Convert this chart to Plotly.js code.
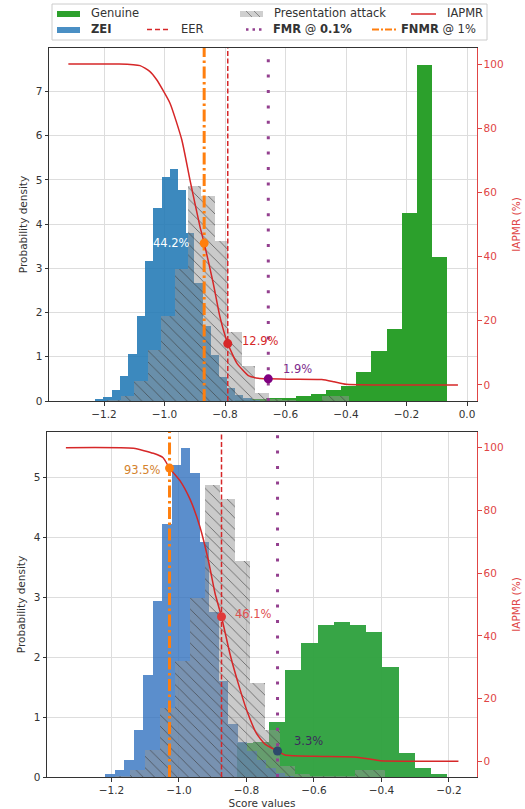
<!DOCTYPE html>
<html>
<head>
<meta charset="utf-8">
<script src="https://cdn.plot.ly/plotly-3.0.1.min.js"></script>
<style>html,body{margin:0;padding:0;background:#fff;}#chart{width:525px;height:809px;}</style>
</head>
<body>
<div id="chart"></div>
<script>
// ---------- DATA ----------
// Top panel
const topGenuineEdges = [-0.766, -0.716, -0.666, -0.616, -0.566, -0.516, -0.466, -0.416, -0.366, -0.316, -0.266, -0.216, -0.166, -0.116, -0.066];
const topGenuineDensity = [0.02, 0.04, 0.075, 0.075, 0.11, 0.16, 0.26, 0.35, 0.65, 1.12, 1.63, 4.25, 7.59, 3.26];
const topZeiEdges = [-1.229, -1.202, -1.175, -1.147, -1.120, -1.092, -1.064, -1.037, -1.009, -0.982, -0.955, -0.928, -0.901, -0.874, -0.847, -0.820, -0.793, -0.766, -0.739, -0.712, -0.685];
const topZeiDensity = [0.04, 0.09, 0.26, 0.57, 1.06, 1.93, 3.17, 4.36, 5.06, 5.24, 4.76, 3.80, 2.67, 1.70, 1.05, 0.55, 0.30, 0.14, 0.07, 0.03];
// Presentation attack (same in both panels)
const paEdges = [-1.190, -1.145, -1.101, -1.056, -1.012, -0.967, -0.923, -0.878, -0.834, -0.789, -0.745, -0.700, -0.656, -0.611, -0.567, -0.522, -0.478, -0.434, -0.389];
const paDensity = [0.02, 0.12, 0.45, 1.15, 1.93, 2.98, 4.87, 4.63, 3.61, 1.57, 0.79, 0.19, 0.05, 0.02, 0.01, 0.01, 0.11, 0.11];
const topIapmrScore = [-1.318, -1.15, -1.081, -1.05, -1.026, -0.982, -0.943, -0.916, -0.883, -0.869, -0.839, -0.817, -0.791, -0.761, -0.723, -0.69, -0.657, -0.58, -0.48, -0.44, -0.40, -0.30, -0.03];
const topIapmrPct = [100, 100, 99.5, 97.8, 95.1, 87.8, 76.4, 63.9, 49.4, 44.2, 31.7, 21.3, 12.9, 6.8, 2.9, 2.1, 1.9, 1.8, 1.7, 1.0, 0.2, 0.0, 0.0];
const topThr = {fnmr: -0.869, eer: -0.791, fmr: -0.657};
const topPct = {fnmr: 44.2, eer: 12.9, fmr: 1.9};

// Bottom panel
const botGenuineEdges = [-0.829, -0.781, -0.733, -0.685, -0.637, -0.589, -0.541, -0.493, -0.445, -0.397, -0.349, -0.301, -0.253, -0.205];
const botGenuineDensity = [0.57, 0.59, 0.92, 1.79, 2.23, 2.54, 2.59, 2.54, 2.42, 1.83, 0.40, 0.15, 0.045];
const botZeiEdges = [-1.219, -1.190, -1.162, -1.134, -1.106, -1.078, -1.050, -1.022, -0.994, -0.966, -0.938, -0.910, -0.882, -0.854, -0.826, -0.798, -0.770, -0.742, -0.714, -0.686, -0.658];
const botZeiDensity = [0.05, 0.11, 0.28, 0.79, 1.70, 2.94, 4.22, 5.20, 5.49, 5.07, 3.92, 2.75, 1.60, 0.89, 0.58, 0.43, 0.29, 0.15, 0.06, 0.02];
const botIapmrScore = [-1.335, -1.135, -1.076, -1.047, -1.028, -0.997, -0.967, -0.938, -0.913, -0.893, -0.874, -0.849, -0.824, -0.799, -0.770, -0.745, -0.708, -0.686, -0.60, -0.479, -0.44, -0.404, -0.30, -0.172];
const botIapmrPct = [100, 99.8, 98.2, 96.8, 93.5, 89.5, 83.5, 74.8, 64.1, 53.5, 46.1, 34.3, 24.7, 16.2, 8.8, 5.5, 3.3, 2.0, 1.6, 1.4, 0.8, 0.2, 0.05, 0];
const botThr = {fnmr: -1.028, eer: -0.874, fmr: -0.708};
const botPct = {fnmr: 93.5, eer: 46.1, fmr: 3.3};

const xTicksTop = [-1.2, -1.0, -0.8, -0.6, -0.4, -0.2, 0.0];
const xTicksBot = [-1.2, -1.0, -0.8, -0.6, -0.4, -0.2];
const legendLabels = ["Genuine", "<b>ZEI</b>", "Presentation attack", "IAPMR", "EER", "<b>FMR</b> @ <b>0.1%</b>", "<b>FNMR</b> @ 1%"];

// ---------- HELPERS ----------
function centers(e){ const c=[]; for(let i=0;i<e.length-1;i++) c.push((e[i]+e[i+1])/2); return c; }
function widths(e){ const w=[]; for(let i=0;i<e.length-1;i++) w.push(e[i+1]-e[i]); return w; }

const RED = '#d62728', AXRED = '#e04545', ORANGE = '#ff7f0e', PURPLE = '#93408f';
const W = 525, H = 809;
const px = v => v / W, py = v => 1 - v / H;

function hist(edges, dens, xa, ya, color, pattern){
  const t = {type:'bar', x: centers(edges), y: dens, width: widths(edges), xaxis: xa, yaxis: ya,
    marker: {color: color, line: {width: 0}}, hoverinfo: 'skip', showlegend: false};
  if (pattern) t.marker.pattern = {shape: '\\', fillmode: 'overlay', fgcolor: '#3a3a3a', fgopacity: 0.75, size: 8, solidity: 0.1};
  return t;
}
function vline(x, ymax, xa, ya, color, width, dash){
  return {type:'scatter', mode:'lines', x:[x,x], y:[0,ymax], xaxis:xa, yaxis:ya,
    line:{color:color, width:width, dash:dash}, hoverinfo:'skip', showlegend:false, cliponaxis:false};
}

const topYmax = 7.98, botYmax = 5.755;
const traces = [
  hist(topGenuineEdges, topGenuineDensity, 'x', 'y', 'rgba(44,160,44,1)'),
  hist(topZeiEdges, topZeiDensity, 'x', 'y', 'rgba(31,119,180,0.87)'),
  hist(paEdges, paDensity, 'x', 'y', 'rgba(150,150,150,0.5)', true),
  vline(topThr.fnmr, topYmax, 'x', 'y', ORANGE, 3, '12px,3.5px,2.5px,3.5px'),
  vline(topThr.eer, topYmax, 'x', 'y', RED, 1.5, '5px,2.5px'),
  vline(topThr.fmr, topYmax, 'x', 'y', PURPLE, 3, '3px,12.4px'),
  {type:'scatter', mode:'lines', x: topIapmrScore, y: topIapmrPct, xaxis:'x', yaxis:'y2',
    line:{color: RED, width:1.5, shape:'spline', smoothing:0.5}, hoverinfo:'skip', showlegend:false},
  {type:'scatter', mode:'markers', x:[topThr.fnmr, topThr.eer, topThr.fmr], y:[topPct.fnmr, topPct.eer, topPct.fmr],
    xaxis:'x', yaxis:'y2', marker:{size:9, color:[ORANGE, RED, '#800080']}, hoverinfo:'skip', showlegend:false},

  hist(botGenuineEdges, botGenuineDensity, 'x2', 'y3', 'rgba(44,160,60,0.95)'),
  hist(botZeiEdges, botZeiDensity, 'x2', 'y3', 'rgba(45,110,190,0.78)'),
  hist(paEdges, paDensity, 'x2', 'y3', 'rgba(150,150,150,0.5)', true),
  vline(botThr.fnmr, botYmax, 'x2', 'y3', ORANGE, 3, '12px,3.5px,2.5px,3.5px'),
  vline(botThr.eer, botYmax, 'x2', 'y3', RED, 1.5, '5px,2.5px'),
  vline(botThr.fmr, botYmax, 'x2', 'y3', PURPLE, 3, '3px,12.4px'),
  {type:'scatter', mode:'lines', x: botIapmrScore, y: botIapmrPct, xaxis:'x2', yaxis:'y4',
    line:{color: RED, width:1.5, shape:'spline', smoothing:0.5}, hoverinfo:'skip', showlegend:false},
  {type:'scatter', mode:'markers', x:[botThr.fnmr, botThr.eer, botThr.fmr], y:[botPct.fnmr, botPct.eer, botPct.fmr],
    xaxis:'x2', yaxis:'y4', marker:{size:9, color:[ORANGE, '#e03a3a', '#2e4a6b']}, hoverinfo:'skip', showlegend:false}
];

const GRID = '#dddddd', AX = '#333333';
const xBase = {showgrid:true, gridcolor:GRID, gridwidth:1, zeroline:false, showline:true, linecolor:AX, linewidth:1,
  mirror:true, ticks:'outside', ticklen:3.5, tickcolor:AX, tickformat:'.1f', tickfont:{size:10.5, color:'#333'}};
const yBase = {showgrid:true, gridcolor:GRID, gridwidth:1, zeroline:false, showline:true, linecolor:AX, linewidth:1,
  ticks:'outside', ticklen:3.5, tickcolor:AX, tickfont:{size:10.5, color:'#333'}, dtick:1,
  title:{text:'Probability density', font:{size:10.5, color:'#333'}, standoff:6}};
const y2Base = {showgrid:false, zeroline:false, showline:true, linecolor:AXRED, linewidth:1, side:'right',
  ticks:'outside', ticklen:3.5, tickcolor:AXRED, tickfont:{size:10.5, color:AXRED}, range:[-5,105], tickvals:[0,20,40,60,80,100],
  title:{text:'IAPMR (%)', font:{size:10.5, color:AXRED}, standoff:10}};

const topDomX = [49/W, 477/W], topDomY = [408/H, 761/H];
const botDomX = [47/W, 477/W], botDomY = [32/H, 377/H];

// ---------- LEGEND (manual) ----------
const shapes = [
  {type:'rect', xref:'paper', yref:'paper', x0:px(52), x1:px(487), y0:py(40), y1:py(4), line:{color:'#cccccc', width:1}, fillcolor:'rgba(255,255,255,0.9)', layer:'above'},
  {type:'rect', xref:'paper', yref:'paper', x0:px(57), x1:px(80), y0:py(17), y1:py(11), line:{width:0}, fillcolor:'#2ca02c', layer:'above'},
  {type:'rect', xref:'paper', yref:'paper', x0:px(57), x1:px(80), y0:py(33), y1:py(27), line:{width:0}, fillcolor:'#4a8fc4', layer:'above'},
  {type:'rect', xref:'paper', yref:'paper', x0:px(240), x1:px(263), y0:py(17), y1:py(11), line:{width:0}, fillcolor:'#cfcfcf', layer:'above'},
  {type:'line', xref:'paper', yref:'paper', x0:px(246), x1:px(252), y0:py(11), y1:py(17), line:{color:'#888', width:1}, layer:'above'},
  {type:'line', xref:'paper', yref:'paper', x0:px(254), x1:px(260), y0:py(11), y1:py(17), line:{color:'#888', width:1}, layer:'above'},
  {type:'line', xref:'paper', yref:'paper', x0:px(411), x1:px(436), y0:py(14), y1:py(14), line:{color:RED, width:1.5}, layer:'above'},
  {type:'line', xref:'paper', yref:'paper', x0:px(147), x1:px(170), y0:py(29.5), y1:py(29.5), line:{color:RED, width:1.5, dash:'5px,3px'}, layer:'above'},
  {type:'line', xref:'paper', yref:'paper', x0:px(246), x1:px(263), y0:py(29.5), y1:py(29.5), line:{color:PURPLE, width:2.5, dash:'2.5px,4px'}, layer:'above'},
  {type:'line', xref:'paper', yref:'paper', x0:px(372), x1:px(396), y0:py(29.5), y1:py(29.5), line:{color:ORANGE, width:2, dash:'7px,2px,2px,2px'}, layer:'above'}
];
function legText(t, x, y){
  return {xref:'paper', yref:'paper', x:px(x), y:py(y), text:t, showarrow:false, xanchor:'left', yanchor:'middle',
    font:{size:11.5, color:'#333'}};
}
const annotations = [
  legText(legendLabels[0], 89, 13.5), legText(legendLabels[1], 89, 29), legText(legendLabels[2], 272, 13.5),
  legText(legendLabels[3], 445, 13.5), legText(legendLabels[4], 179, 29.5), legText(legendLabels[5], 271, 29.5),
  legText(legendLabels[6], 399, 29.5),
  // value labels
  {xref:'x', yref:'y2', x:topThr.fnmr, y:topPct.fnmr, text:topPct.fnmr.toFixed(1)+'%', showarrow:false, xanchor:'right', yanchor:'middle', xshift:-12, yshift:0, font:{size:11.5, color:'#ffffff'}},
  {xref:'x', yref:'y2', x:topThr.eer, y:topPct.eer, text:topPct.eer.toFixed(1)+'%', showarrow:false, xanchor:'left', yanchor:'middle', xshift:12, yshift:3, font:{size:11.5, color:RED}},
  {xref:'x', yref:'y2', x:topThr.fmr, y:topPct.fmr, text:topPct.fmr.toFixed(1)+'%', showarrow:false, xanchor:'left', yanchor:'middle', xshift:13, yshift:10, font:{size:11.5, color:'#7d2a8c'}},
  {xref:'x2', yref:'y4', x:botThr.fnmr, y:botPct.fnmr, text:botPct.fnmr.toFixed(1)+'%', showarrow:false, xanchor:'right', yanchor:'middle', xshift:-7, yshift:-2, font:{size:11.5, color:'#d4822c'}},
  {xref:'x2', yref:'y4', x:botThr.eer, y:botPct.eer, text:botPct.eer.toFixed(1)+'%', showarrow:false, xanchor:'left', yanchor:'middle', xshift:11, yshift:3, font:{size:11.5, color:'#e05050'}},
  {xref:'x2', yref:'y4', x:botThr.fmr, y:botPct.fmr, text:botPct.fmr.toFixed(1)+'%', showarrow:false, xanchor:'left', yanchor:'middle', xshift:14, yshift:10, font:{size:11.5, color:'#3c2c5c'}}
];

const layout = {
  width: W, height: H, margin:{l:0, r:0, t:0, b:0}, paper_bgcolor:'#fff', plot_bgcolor:'#fff',
  font:{family:'DejaVu Sans, sans-serif', size:10.5, color:'#333'},
  barmode:'overlay', bargap:0, showlegend:false,
  xaxis: Object.assign({}, xBase, {domain: topDomX, anchor:'y', range:[-1.382, 0.033], tickvals: xTicksTop}),
  yaxis: Object.assign({}, yBase, {domain: topDomY, anchor:'x', range:[0, topYmax]}),
  yaxis2: Object.assign({}, y2Base, {overlaying:'y', anchor:'x'}),
  xaxis2: Object.assign({}, xBase, {domain: botDomX, anchor:'y3', range:[-1.391, -0.117], tickvals: xTicksBot,
    title:{text:'Score values', font:{size:10.5, color:'#333'}, standoff:4}}),
  yaxis3: Object.assign({}, yBase, {domain: botDomY, anchor:'x2', range:[0, botYmax]}),
  yaxis4: Object.assign({}, y2Base, {overlaying:'y3', anchor:'x2'}),
  shapes: shapes, annotations: annotations
};

Plotly.newPlot('chart', traces, layout, {displayModeBar:false, staticPlot:true});
</script>
</body>
</html>
